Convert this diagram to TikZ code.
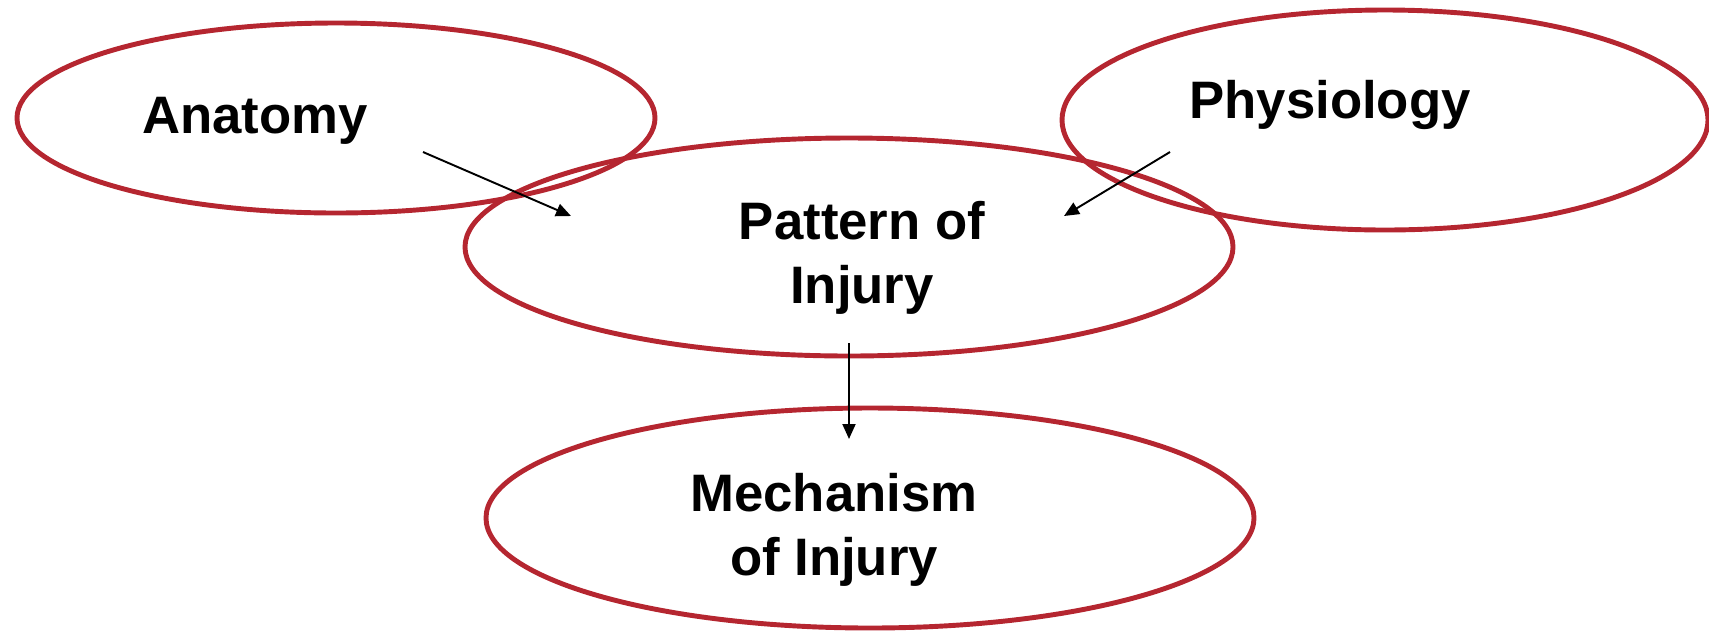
\documentclass[tikz,border=0pt]{standalone}
\usepackage{fontspec}
\setmainfont{Liberation Sans}
\usetikzlibrary{arrows.meta, shapes.geometric, positioning}

\definecolor{ovalred}{RGB}{181,38,48}

\begin{document}
\begin{tikzpicture}

    \tikzset
    {
        font={\fontsize{30pt}{36pt}\bfseries\selectfont},
        oval/.style={ellipse, draw=ovalred, line width=2.8pt, inner sep=0pt},
        label/.style={align=center, anchor=base, inner sep=0pt},
        link/.style={-{Triangle[length=0.3cm, width=0.26cm]}, line width=1.1pt}
    }

    \useasboundingbox (0,0) rectangle (34.18,-12.66);

    \node[oval, minimum width=12.76cm, minimum height=3.8cm] (anatomy) at (6.72,-2.36) {};
    \node[oval, minimum width=12.92cm, minimum height=4.4cm] (physiology) at (27.70,-2.40) {};
    \node[oval, minimum width=15.36cm, minimum height=4.36cm] (pattern) at (16.98,-4.94) {};
    \node[oval, minimum width=15.36cm, minimum height=4.4cm] (mechanism) at (17.40,-10.36) {};

    % base of a two-line label is the baseline of its last line
    \node[label] (anatomytext) at (5.10,-2.66) {Anatomy};
    \node[label] (physiologytext) at (26.60,-2.36) {Physiology};
    \node[label] (patterntext) at (17.24,-6.06) {Pattern of\\Injury};
    \node[label] (mechanismtext) at (16.68,-11.50) {Mechanism\\of Injury};

    \coordinate (anatomyout) at (8.46,-3.04);
    \coordinate (patternleft) at (11.42,-4.32);
    \coordinate (physiologyout) at (23.40,-3.04);
    \coordinate (patternright) at (21.28,-4.32);
    \coordinate (patternout) at (16.98,-6.86);
    \coordinate (mechanismin) at (16.98,-8.78);

    \draw[link] (anatomyout) -- (patternleft);
    \draw[link] (physiologyout) -- (patternright);
    \draw[link] (patternout) -- (mechanismin);

\end{tikzpicture}
\end{document}
